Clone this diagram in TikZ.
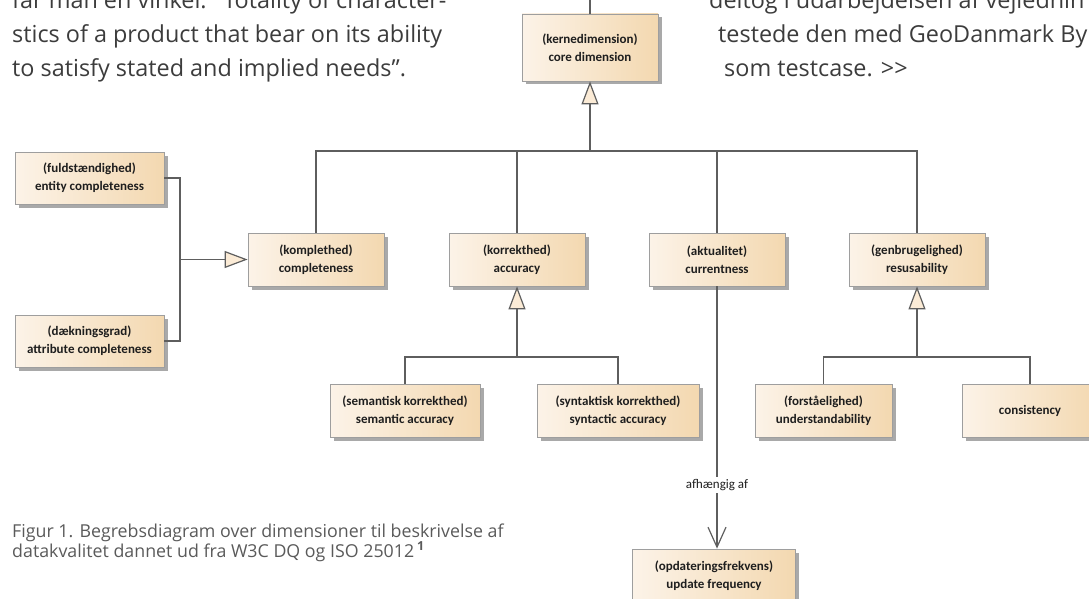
\documentclass[tikz,border=0pt]{standalone}
\usepackage{fontspec}
\setmainfont{Open Sans}
\newfontfamily\boxfont{Carlito}
\usetikzlibrary{arrows.meta,shadows}
\definecolor{boxL}{HTML}{FCF3E8}
\definecolor{boxR}{HTML}{F3D8B0}
\definecolor{boxBorder}{HTML}{9E9E9E}
\definecolor{boxShadow}{HTML}{A9A9A9}
\definecolor{lineGray}{HTML}{5E5E5E}
\definecolor{triFill}{HTML}{FBEBD6}
\definecolor{bodyText}{HTML}{3C3C3C}
\definecolor{capText}{HTML}{5A5A5A}
\definecolor{boxText}{HTML}{1E1E1E}
\tikzset{
 concept/.style={draw=boxBorder, line width=0.8pt, left color=boxL, right color=boxR,
   general shadow={fill=boxShadow, shadow xshift=3.5pt, shadow yshift=-3.5pt},
   minimum height=53pt, inner sep=0pt, align=center,
   font=\boxfont\bfseries\fontsize{13}{18}\selectfont, text=boxText},
 conn/.style={draw=lineGray, line width=1.2pt},
 gen/.style={conn, -{Triangle[open, length=23pt, width=17pt, fill=triFill]}},
 dep/.style={conn, -{Straight Barb[length=20pt, width=18pt]}},
 body/.style={anchor=base west, inner sep=0pt, text=bodyText, font=\fontsize{23.4}{34}\selectfont},
 capline/.style={anchor=base west, inner sep=0pt, text=capText, font=\fontsize{17.8}{20}\selectfont},
 lbl/.style={fill=white, inner sep=2pt, text=boxText, font=\boxfont\fontsize{13}{15}\selectfont}
}
\begin{document}
\begin{tikzpicture}[x=1pt,y=-1pt]
\useasboundingbox (0,0) rectangle (1089,599);
\clip (0,0) rectangle (1089,599);
% body text
\node[body] (l1) at (12,9) {får man en vinkel: “Totality of character-};
\node[body] (l2) at (12,43) {stics of a product that bear on its ability};
\node[body] (l3) at (12,77) {to satisfy stated and implied needs”.};
\node[body] (r1) at (709,9) {deltog i udarbejdelsen af vejlednin};
\node[body] (r2) at (718,43) {testede den med GeoDanmark By};
\node[body] (r3) at (724,77) {som testcase. >\kern0pt>};
% caption
\node[capline] (c1) at (12,537) {Figur 1. Begrebsdiagram over dimensioner til beskrivelse af};
\node[capline] (c2) at (12,557) {datakvalitet dannet ud fra W3C DQ og ISO 25012\,\textsuperscript{\bfseries 1}};
% boxes
\node[concept, minimum width=136pt, minimum height=67pt] (core) at (590,47.5) {(kernedimension)\\core dimension};
\node[concept, minimum width=136pt] (compl) at (316,259.5) {(komplethed)\\completeness};
\node[concept, minimum width=136pt] (accur) at (517,259.5) {(korrekthed)\\accuracy};
\node[concept, minimum width=136pt] (curr) at (717,259.5) {(aktualitet)\\currentness};
\node[concept, minimum width=136pt] (resus) at (917,259.5) {(genbrugelighed)\\resusability};
\node[concept, minimum width=149pt, minimum height=52pt] (entity) at (89.5,178) {(fuldstændighed)\\entity completeness};
\node[concept, minimum width=149pt, minimum height=52pt] (attr) at (89.5,341) {(dækningsgrad)\\attribute completeness};
\node[concept, minimum width=150pt] (sem) at (405,410.5) {(semantisk korrekthed)\\semantic accuracy};
\node[concept, minimum width=162pt] (syn) at (618,410.5) {(syntaktisk korrekthed)\\syntactic accuracy};
\node[concept, minimum width=137pt] (und) at (823.5,410.5) {(forståelighed)\\understandability};
\node[concept, minimum width=136pt] (cons) at (1030,410.5) {consistency};
\node[concept, minimum width=163pt, minimum height=54pt] (upd) at (714,576) {(opdateringsfrekvens)\\update frequency};
% connectors
\coordinate (topEnd) at (590,0);
\draw[conn] (core.north) -- (topEnd);
\coordinate (busTop) at (590,151);
\draw[gen] (busTop) -- (core.south);
\draw[conn] (compl.north) -- (compl.north |- busTop) -- (resus.north |- busTop) -- (resus.north);
\draw[conn] (accur.north) -- (accur.north |- busTop);
\draw[conn] (curr.north) -- (curr.north |- busTop);
\coordinate (lj) at (180,259.5);
\draw[conn] (entity.east) -- (entity.east -| lj) -- (attr.east -| lj) -- (attr.east);
\draw[gen] (lj) -- (compl.west);
\coordinate (accBus) at (517,357);
\draw[gen] (accBus) -- (accur.south);
\draw[conn] (sem.north) |- (accBus) -| (syn.north);
\coordinate (resBus) at (917,357);
\draw[gen] (resBus) -- (resus.south);
\draw[conn] (und.north) |- (resBus) -| (cons.north);
\draw[dep] (curr.south) -- (curr.south |- upd.north) node[lbl, pos=0.757] (dlab) {afhængig af};
\end{tikzpicture}
\end{document}
